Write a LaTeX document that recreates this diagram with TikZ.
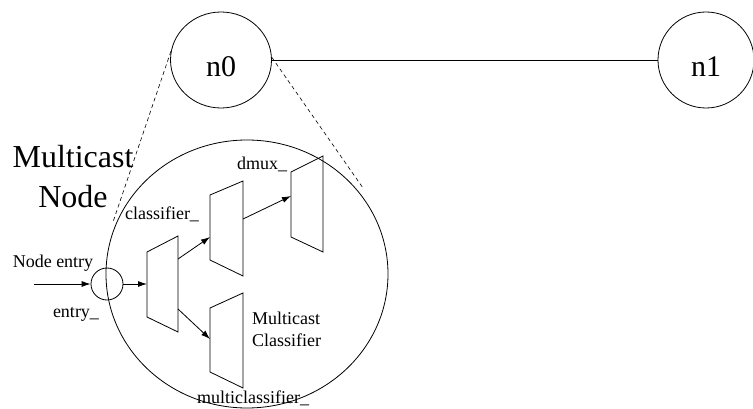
\documentclass[tikz,border=0pt]{standalone}
\usepackage{fontspec}
\setmainfont{Liberation Serif}
\usetikzlibrary{shapes.geometric,arrows.meta}
\begin{document}
\begin{tikzpicture}[x=1pt,y=-1pt,
  ring/.style={draw,ellipse,inner sep=0pt,line width=0.8pt},
  bigtext/.style={font=\fontsize{30}{36}\selectfont},
  small/.style={font=\fontsize{18}{22}\selectfont, inner sep=0pt},
  arr/.style={-{Latex[length=9pt,width=6pt]},line width=0.8pt},
  zoomline/.style={dash pattern=on 4pt off 3pt, line width=0.6pt},
  trap/.style={draw,line width=0.8pt,line join=miter}
]
\useasboundingbox (0,0) rectangle (753,409);

% top-level topology
\node[ring,bigtext,minimum width=101pt,minimum height=96pt,text height=34pt,text depth=0pt] (n0) at (221,60) {n0};
\node[ring,bigtext,minimum width=96pt,minimum height=96pt,text height=34pt,text depth=0pt] (n1) at (706,60) {n1};
\draw[line width=0.8pt] (n0.east) -- (n1.west);

% zoomed multicast node
\node[ring,minimum width=282pt,minimum height=268pt] (mc) at (247,274) {};
\coordinate (zl) at (113,222);
\coordinate (zr) at (363,188);
\draw[zoomline] (n0.170) -- (zl);
\draw[zoomline] (n0.3) -- (zr);

\node[align=center,inner sep=0pt,font=\fontsize{32}{40}\selectfont] (mclabel) at (73,177) {Multicast\\Node};

% entry
\node[ring,minimum width=32pt,minimum height=32pt] (entry) at (107,284) {};
\coordinate (src) at (34,284);
\node[small,anchor=base] (lentry) at (53,267) {Node entry};
\node[small,anchor=base] (lentryu) at (76,317) {entry\_};

% trapezoids
\draw[trap] (147,252) -- (178,236) -- (178,332) -- (147,317) -- cycle;
\draw[trap] (210,195) -- (243,181) -- (243,276) -- (210,260) -- cycle;
\draw[trap] (291,172) -- (323,156) -- (323,252) -- (291,237) -- cycle;
\draw[trap] (210,308) -- (243,293) -- (243,388) -- (210,372) -- cycle;

\coordinate (t1in) at (147,284);
\coordinate (t1oa) at (178,259);
\coordinate (t1ob) at (178,309);
\coordinate (t2in) at (210,237);
\coordinate (t2out) at (243,219);
\coordinate (t3in) at (291,196);
\coordinate (t4in) at (210,339);

\draw[arr] (src) -- (entry.west);
\draw[arr] (entry.east) -- (t1in);
\draw[arr] (t1oa) -- (t2in);
\draw[arr] (t1ob) -- (t4in);
\draw[arr] (t2out) -- (t3in);

% labels
\node[small,anchor=base] (lclass) at (162,219) {classifier\_};
\node[small,anchor=base] (ldmux) at (262,170) {dmux\_};
\node[small,anchor=base] (lmulti) at (253,403) {multiclassifier\_};
\node[small,align=left,anchor=west] (lmcc) at (252,329) {Multicast\\Classifier};
\end{tikzpicture}
\end{document}
